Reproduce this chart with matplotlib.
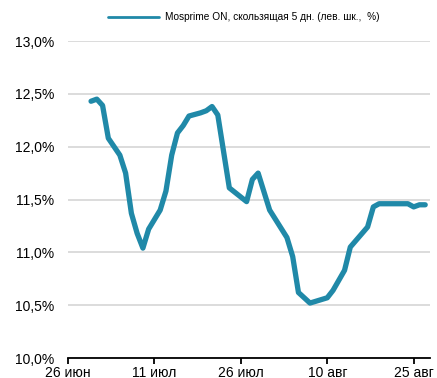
import pandas as pd
import matplotlib.pyplot as plt
import matplotlib.dates as mdates
from matplotlib.ticker import FuncFormatter

plt.rcParams['font.family'] = ['Liberation Sans', 'DejaVu Sans']

# Mosprime ON, 5-day moving average (%)
dates = ['2020-06-30', '2020-07-01', '2020-07-02', '2020-07-03', '2020-07-05',
         '2020-07-06', '2020-07-07', '2020-07-08', '2020-07-09', '2020-07-10',
         '2020-07-12', '2020-07-13', '2020-07-14', '2020-07-15', '2020-07-16',
         '2020-07-17', '2020-07-19', '2020-07-20', '2020-07-21', '2020-07-22',
         '2020-07-24', '2020-07-27', '2020-07-28', '2020-07-29', '2020-07-31',
         '2020-08-03', '2020-08-04', '2020-08-05', '2020-08-07', '2020-08-10',
         '2020-08-11', '2020-08-13', '2020-08-14', '2020-08-17', '2020-08-18',
         '2020-08-19', '2020-08-24', '2020-08-25', '2020-08-26', '2020-08-27']
values = [12.43, 12.45, 12.39, 12.08, 11.92,
          11.75, 11.37, 11.18, 11.04, 11.22,
          11.40, 11.58, 11.92, 12.13, 12.20,
          12.29, 12.32, 12.34, 12.38, 12.30,
          11.61, 11.48, 11.69, 11.75, 11.40,
          11.14, 10.96, 10.62, 10.52, 10.57,
          10.64, 10.83, 11.05, 11.24, 11.43,
          11.46, 11.46, 11.43, 11.45, 11.45]
tick_dates = ['2020-06-26', '2020-07-11', '2020-07-26', '2020-08-10', '2020-08-25']
tick_labels = ['26 июн', '11 июл', '26 июл', '10 авг', '25 авг']
y_ticks = [10.0, 10.5, 11.0, 11.5, 12.0, 12.5, 13.0]

x = pd.to_datetime(dates)

fig = plt.figure(figsize=(4.37, 3.78), dpi=100)
ax = fig.add_axes([0.1556, 0.0529, 0.8284, 0.8386])

ax.plot(x, values, color='#2089a8', lw=3.8, solid_joinstyle='round',
        solid_capstyle='round', label='Mosprime ON, скользящая 5 дн. (лев. шк.,  %)')

ax.set_ylim(10, 13)
ax.set_yticks(y_ticks)
ax.yaxis.set_major_formatter(FuncFormatter(lambda v, p: f'{v:.1f}%'.replace('.', ',')))
ax.set_xlim(pd.Timestamp('2020-06-26'), pd.Timestamp('2020-08-27 20:00'))
ax.set_xticks(pd.to_datetime(tick_dates))
ax.set_xticklabels(tick_labels)

ax.grid(axis='y', color='#d9d9d9', lw=1.3)
ax.set_axisbelow(True)
for s in ['top', 'right', 'left']:
    ax.spines[s].set_visible(False)
ax.spines['bottom'].set_color('black')
ax.spines['bottom'].set_linewidth(1.3)
ax.tick_params(axis='y', length=0, pad=10, labelsize=10)
ax.tick_params(axis='x', direction='out', length=4, width=1.3, pad=2, labelsize=10)

leg = ax.legend(loc='lower center', bbox_to_anchor=(0.485, 1.03), frameon=False,
                fontsize=7.3, handlelength=5.0, handletextpad=0.6)
leg.get_lines()[0].set_linewidth(2)

fig.savefig('out.png', dpi=100)
